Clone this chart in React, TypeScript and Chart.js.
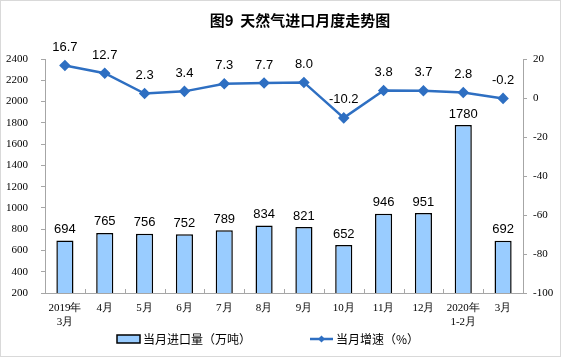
import React, { useEffect, useRef } from "react";
import { Chart, registerables } from "chart.js";

Chart.register(...registerables);

const categories: (string | string[])[] = [
  ["2019年", "3月"], "4月", "5月", "6月", "7月", "8月", "9月", "10月", "11月", "12月", ["2020年", "1-2月"], "3月",
];
const importVolume = [694, 765, 756, 752, 789, 834, 821, 652, 946, 951, 1780, 692];
const growthRate = [16.7, 12.7, 2.3, 3.4, 7.3, 7.7, 8.0, -10.2, 3.8, 3.7, 2.8, -0.2];
const titleText = "图9  天然气进口月度走势图";
const barLegend = "当月进口量（万吨）";
const lineLegend = "当月增速（%）";

const BAR_FILL = "#99CCFF";
const LINE_COLOR = "#2E6FC2";
const AXIS_COLOR = "#A6A6A6";

const decorPlugin = {
  id: "decor",
  afterDatasetsDraw(chart: any) {
    const ctx = chart.ctx;
    ctx.save();
    ctx.fillStyle = "#000";
    ctx.font = "13px 'Liberation Sans', Arial, sans-serif";
    ctx.textAlign = "center";
    ctx.textBaseline = "middle";
    const barMeta = chart.getDatasetMeta(0);
    barMeta.data.forEach((el: any, i: number) => {
      ctx.fillText(String(importVolume[i]), el.x, el.y - 11);
    });
    const lineMeta = chart.getDatasetMeta(1);
    lineMeta.data.forEach((el: any, i: number) => {
      ctx.fillText(growthRate[i].toFixed(1), el.x, el.y - 18);
    });
    ctx.restore();
  },
  afterDraw(chart: any) {
    const ctx = chart.ctx;
    const area = chart.chartArea;
    const xs = chart.scales.x;
    ctx.save();
    ctx.strokeStyle = AXIS_COLOR;
    ctx.lineWidth = 1;
    for (let i = 0; i <= categories.length; i++) {
      const x = Math.round(xs.getPixelForValue(i - 0.5)) + 0.5;
      ctx.beginPath();
      ctx.moveTo(x, area.bottom);
      ctx.lineTo(x, area.bottom - 4);
      ctx.stroke();
    }
    ctx.fillStyle = "#000";
    ctx.font = "bold 15px 'Noto Sans CJK SC', sans-serif";
    ctx.textAlign = "center";
    ctx.textBaseline = "middle";
    ctx.fillText(titleText, 300, 20);
    const ly = 339;
    ctx.fillStyle = BAR_FILL;
    ctx.fillRect(117, ly - 4, 23, 8);
    ctx.strokeStyle = "#000";
    ctx.lineWidth = 1.5;
    ctx.strokeRect(117, ly - 4, 23, 8);
    ctx.fillStyle = "#000";
    ctx.font = "12px 'Noto Sans CJK SC', sans-serif";
    ctx.textAlign = "left";
    ctx.fillText(barLegend, 143, ly);
    ctx.strokeStyle = LINE_COLOR;
    ctx.lineWidth = 2.5;
    ctx.beginPath();
    ctx.moveTo(310, ly);
    ctx.lineTo(333, ly);
    ctx.stroke();
    ctx.fillStyle = LINE_COLOR;
    ctx.beginPath();
    ctx.moveTo(321.5, ly - 3.5);
    ctx.lineTo(325, ly);
    ctx.lineTo(321.5, ly + 3.5);
    ctx.lineTo(318, ly);
    ctx.closePath();
    ctx.fill();
    ctx.fillStyle = "#000";
    ctx.fillText(lineLegend, 336, ly);
    ctx.strokeStyle = "#D9D9D9";
    ctx.lineWidth = 1;
    ctx.strokeRect(0.5, 0.5, chart.width - 1, chart.height - 1);
    ctx.restore();
  },
};

export default function App() {
  const ref = useRef<HTMLCanvasElement>(null);
  useEffect(() => {
    if (!ref.current) return;
    const tickFont = { family: "'Liberation Serif', 'Times New Roman', serif", size: 11 };
    const chart = new Chart(ref.current, {
      type: "bar",
      data: {
        labels: categories,
        datasets: [
          {
            type: "bar",
            label: barLegend,
            data: importVolume,
            backgroundColor: BAR_FILL,
            borderColor: "#000",
            borderWidth: 1.5,
            categoryPercentage: 1,
            barPercentage: 0.43,
            yAxisID: "y",
            order: 1,
          },
          {
            type: "line",
            label: lineLegend,
            data: growthRate,
            borderColor: LINE_COLOR,
            backgroundColor: LINE_COLOR,
            borderWidth: 2.5,
            pointStyle: "rectRot",
            pointRadius: 4,
            pointBackgroundColor: LINE_COLOR,
            pointBorderColor: LINE_COLOR,
            tension: 0,
            yAxisID: "y1",
            order: 0,
          },
        ],
      },
      options: {
        responsive: false,
        animation: false,
        devicePixelRatio: 1,
        layout: { padding: { top: 59, left: 0, right: 0, bottom: 0 } },
        plugins: {
          legend: { display: false },
          title: { display: false },
          tooltip: { enabled: false },
        },
        scales: {
          x: {
            offset: true,
            grid: { display: false },
            border: { display: true, color: AXIS_COLOR },
            ticks: { font: tickFont, color: "#000", padding: 1, maxRotation: 0, autoSkip: false },
            afterFit: (s: any) => { s.height = 64; },
          },
          y: {
            position: "left",
            min: 200,
            max: 2400,
            grid: { drawOnChartArea: false, drawTicks: true, tickLength: 4, color: AXIS_COLOR },
            border: { display: true, color: AXIS_COLOR },
            ticks: { stepSize: 200, font: tickFont, color: "#000", padding: 13, callback: (v: any) => String(v) },
            afterFit: (s: any) => { s.width = 45; },
          },
          y1: {
            position: "right",
            min: -100,
            max: 20,
            grid: { drawOnChartArea: false, drawTicks: true, tickLength: 4, color: AXIS_COLOR },
            border: { display: true, color: AXIS_COLOR },
            ticks: { stepSize: 20, font: tickFont, color: "#000", padding: 6, callback: (v: any) => String(v) },
            afterFit: (s: any) => { s.width = 38; },
          },
        },
      },
      plugins: [decorPlugin],
    });
    return () => chart.destroy();
  }, []);
  return (
    <div style={{ position: "absolute", left: 0, top: 0, width: 561, height: 357, background: "#fff" }}>
      <canvas ref={ref} width={561} height={357} />
    </div>
  );
}
